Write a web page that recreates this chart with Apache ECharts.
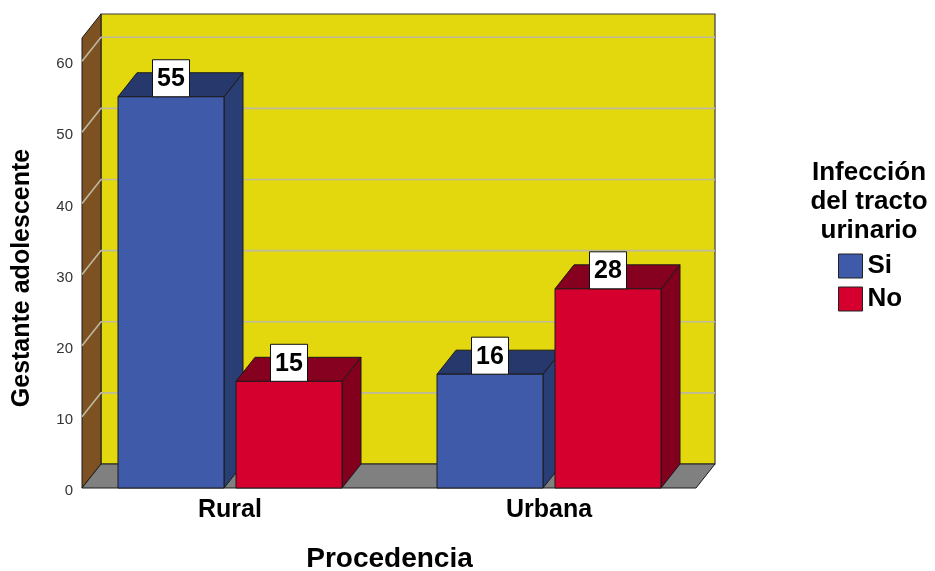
<!DOCTYPE html>
<html>
<head>
<meta charset="utf-8">
<script src="https://cdn.jsdelivr.net/npm/echarts@6/dist/echarts.min.js"></script>
<style>html,body{margin:0;padding:0;background:#fff}#c{width:935px;height:571px}</style>
</head>
<body>
<div id="c"></div>
<script>
// ---- data ----
const categories = ['Rural', 'Urbana'];
const seriesNames = ['Si', 'No'];
const siValues = [55, 16];
const noValues = [15, 28];
const yAxisMax = 63.26;
const yTickInterval = 10;
const yTickValues = [10, 20, 30, 40, 50, 60];
const xAxisTitle = 'Procedencia';
const yAxisTitle = 'Gestante adolescente';
const legendTitle = 'Infección\ndel tracto\nurinario';

// ---- style ----
const FONT = '"Liberation Sans", Arial, sans-serif';
const DX = 19, DY = -24;
const BAR_W = 106, BAR_OFF = 59;
const STROKE = '#1a1a1a';
const colors = {
  Si: { front: '#3F5AA8', top: '#27396C', side: '#2A3E76' },
  No: { front: '#D6002E', top: '#86001F', side: '#82001E' }
};

const chart = echarts.init(document.getElementById('c'), null, { renderer: 'canvas' });

function renderDecor(params, api) {
  const cs = params.coordSys;
  const L = cs.x + 11.5, R = cs.x + cs.width - 12.5;
  const T = cs.y, B = cs.y + cs.height;
  const children = [];
  // back wall
  children.push({ type: 'polygon', shape: { points: [[L + DX, T + DY], [R + DX, T + DY], [R + DX, B + DY], [L + DX, B + DY]] },
    style: { fill: '#E3D80E', stroke: '#3a3a3a', lineWidth: 1.2 } });
  // left wall
  children.push({ type: 'polygon', shape: { points: [[L, T], [L + DX, T + DY], [L + DX, B + DY], [L, B]] },
    style: { fill: '#7E5123', stroke: STROKE, lineWidth: 1 } });
  // floor
  children.push({ type: 'polygon', shape: { points: [[L, B], [L + DX, B + DY], [R + DX, B + DY], [R, B]] },
    style: { fill: '#808080', stroke: STROKE, lineWidth: 1 } });
  // gridlines
  yTickValues.forEach(v => {
    const y = api.coord([0, v])[1];
    children.push({ type: 'polyline', shape: { points: [[L, y], [L + DX, y + DY], [R + DX, y + DY]] },
      style: { fill: null, stroke: '#BDB99E', lineWidth: 1.6 } });
  });
  return { type: 'group', children: children };
}

function makeBarRenderer(name, off) {
  const col = colors[name];
  return function (params, api) {
    const cat = api.value(0), val = api.value(1);
    const base = api.coord([cat, 0]);
    const topPt = api.coord([cat, val]);
    const x0 = base[0] + off - BAR_W / 2, x1 = x0 + BAR_W;
    const yT = topPt[1], yB = base[1];
    const cx = (x0 + x1) / 2;
    return {
      type: 'group',
      children: [
        { type: 'polygon', shape: { points: [[x1, yT], [x1 + DX, yT + DY], [x1 + DX, yB + DY], [x1, yB]] },
          style: { fill: col.side, stroke: STROKE, lineWidth: 1 } },
        { type: 'polygon', shape: { points: [[x0, yT], [x0 + DX, yT + DY], [x1 + DX, yT + DY], [x1, yT]] },
          style: { fill: col.top, stroke: STROKE, lineWidth: 1 } },
        { type: 'rect', shape: { x: x0, y: yT, width: BAR_W, height: yB - yT },
          style: { fill: col.front, stroke: STROKE, lineWidth: 1 } },
        { type: 'rect', z2: 20, shape: { x: cx - 18.5, y: yT - 37, width: 37, height: 37 },
          style: { fill: '#fff', stroke: '#111', lineWidth: 1 } },
        { type: 'text', z2: 21, x: cx, y: yT - 17.5, style: { text: String(val), font: 'bold 25px ' + FONT,
          fill: '#000', align: 'center', verticalAlign: 'middle' } }
      ]
    };
  };
}

const option = {
  backgroundColor: '#fff',
  animation: false,
  grid: { left: 70.5, right: 226.5, top: 38, bottom: 83, outerBoundsMode: 'none', containLabel: false },
  xAxis: {
    type: 'category', data: categories,
    axisLine: { show: false }, axisTick: { show: false },
    axisLabel: { margin: 10, fontFamily: FONT, fontSize: 25, fontWeight: 'bold', color: '#000' },
    name: xAxisTitle, nameLocation: 'middle', nameGap: 57,
    nameTextStyle: { fontFamily: FONT, fontSize: 28, fontWeight: 'bold', color: '#000' }
  },
  yAxis: {
    type: 'value', min: 0, max: yAxisMax, interval: yTickInterval, offset: -11.5,
    axisLine: { show: false }, axisTick: { show: false }, splitLine: { show: false },
    axisLabel: { margin: 9, fontFamily: FONT, fontSize: 15, color: '#333', showMaxLabel: false,
      formatter: v => (v % yTickInterval === 0 ? '{t|' + v + '}' : ''),
      rich: { t: { fontFamily: FONT, fontSize: 15, color: '#333', padding: [6, 0, 0, 0] } } }
  },
  legend: {
    orient: 'vertical', left: 838, top: 253, padding: 0, itemGap: 7,
    itemWidth: 24, itemHeight: 24, icon: 'rect',
    textStyle: { fontFamily: FONT, fontSize: 26, fontWeight: 'bold', color: '#000' },
    data: [
      { name: 'Si', itemStyle: { color: colors.Si.front, borderColor: '#222', borderWidth: 1 } },
      { name: 'No', itemStyle: { color: colors.No.front, borderColor: '#222', borderWidth: 1 } }
    ]
  },
  graphic: [
    { type: 'text', x: 869, y: 158.5, style: { text: legendTitle, font: 'bold 26px ' + FONT, fill: '#000',
      align: 'center', verticalAlign: 'top', lineHeight: 29 } },
    { type: 'text', x: 22.5, y: 278, rotation: Math.PI / 2, style: { text: yAxisTitle, font: 'bold 25px ' + FONT,
      fill: '#000', align: 'center', verticalAlign: 'middle' } }
  ],
  series: [
    { type: 'custom', name: '_decor', silent: true, clip: false, z: 1,
      renderItem: renderDecor, data: [[0, 0]], encode: { x: 0, y: 1 } },
    { type: 'custom', name: seriesNames[0], clip: false, z: 2,
      itemStyle: { color: colors.Si.front },
      renderItem: makeBarRenderer('Si', -BAR_OFF),
      data: categories.map((c, i) => [i, siValues[i]]), encode: { x: 0, y: 1 } },
    { type: 'custom', name: seriesNames[1], clip: false, z: 2,
      itemStyle: { color: colors.No.front },
      renderItem: makeBarRenderer('No', BAR_OFF),
      data: categories.map((c, i) => [i, noValues[i]]), encode: { x: 0, y: 1 } }
  ]
};
chart.setOption(option);
</script>
</body>
</html>
